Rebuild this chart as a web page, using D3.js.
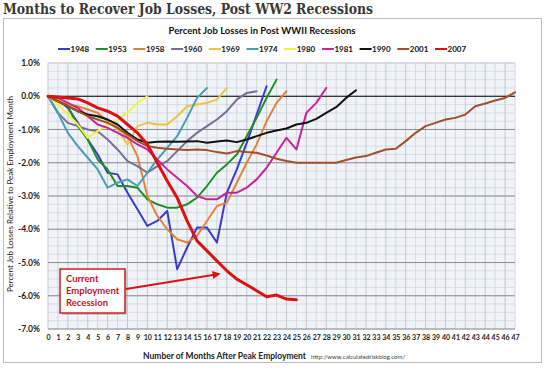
<!DOCTYPE html>
<html><head><meta charset="utf-8">
<script src="https://cdn.jsdelivr.net/npm/d3@7"></script>
<style>body{margin:0;background:#fff}svg{display:block}</style>
</head><body>
<svg id="c" width="549" height="374"></svg>
<script>
const months = d3.range(0, 48);
const xTickLabels = months.map(String);
const yTicks = [1, 0, -1, -2, -3, -4, -5, -6, -7];
const seriesNames = ["1948","1953","1958","1960","1969","1974","1980","1981","1990","2001","2007"];
const seriesColors = ["#3a3acc","#1f8f24","#e0843a","#7a6b9a","#efc23f","#4a9db0","#f4f43c","#cc2299","#111111","#a0502a","#dd1111"];
const s1948 = [0,-0.1,-0.35,-0.8,-1.3,-1.75,-2.3,-2.35,-2.9,-3.4,-3.9,-3.75,-3.45,-5.2,-4.55,-3.95,-3.95,-4.4,-2.9,-2.2,-1.4,-0.55,0.3];
const s1953 = [0,-0.1,-0.3,-0.9,-1.3,-1.9,-2.2,-2.7,-2.7,-2.75,-3.1,-3.25,-3.35,-3.35,-3.25,-3.05,-2.7,-2.3,-2.05,-1.75,-1.2,-0.65,-0.05,0.5];
const s1958 = [0,-0.1,-0.25,-0.3,-0.4,-0.5,-0.75,-0.95,-1.2,-1.8,-3.0,-3.6,-4.0,-4.3,-4.4,-4.2,-3.75,-3.3,-3.2,-2.6,-2.0,-1.45,-0.75,-0.2,0.15];
const s1960 = [0,-0.5,-0.8,-0.9,-1.0,-1.05,-1.3,-1.6,-1.95,-2.1,-2.3,-2.1,-1.95,-1.65,-1.35,-1.1,-0.9,-0.7,-0.45,-0.1,0.1,0.15];
const s1969 = [0,-0.1,-0.2,-0.4,-0.55,-0.6,-0.7,-1.0,-1.45,-0.9,-0.8,-0.85,-0.85,-0.6,-0.3,-0.25,-0.2,-0.1,0.25];
const s1974 = [0,-0.5,-1.1,-1.5,-1.85,-2.2,-2.75,-2.6,-2.5,-2.7,-2.3,-1.9,-1.55,-1.2,-0.65,-0.05,0.25];
const s1980 = [0,-0.25,-0.55,-0.85,-1.25,-1.05,-0.85,-0.7,-0.5,-0.2,0.0];
const s1981 = [0,-0.05,-0.2,-0.35,-0.6,-0.85,-0.95,-1.1,-1.25,-1.45,-1.6,-1.9,-2.2,-2.45,-2.7,-3.0,-3.1,-3.1,-2.9,-2.9,-2.75,-2.5,-2.15,-1.7,-1.25,-1.6,-0.5,-0.2,0.25];
const s1990 = [0,-0.15,-0.3,-0.45,-0.55,-0.6,-0.7,-0.85,-1.1,-1.3,-1.4,-1.37,-1.36,-1.37,-1.36,-1.35,-1.4,-1.36,-1.33,-1.38,-1.3,-1.2,-1.1,-1.03,-0.97,-0.85,-0.8,-0.68,-0.5,-0.33,-0.05,0.18];
const s2001 = [0,-0.15,-0.3,-0.45,-0.6,-0.7,-0.8,-0.95,-1.15,-1.35,-1.5,-1.55,-1.58,-1.6,-1.62,-1.6,-1.62,-1.68,-1.72,-1.65,-1.68,-1.7,-1.78,-1.88,-1.95,-2.0,-2.0,-2.0,-2.0,-2.0,-1.92,-1.84,-1.8,-1.7,-1.6,-1.58,-1.35,-1.1,-0.9,-0.8,-0.7,-0.65,-0.55,-0.3,-0.22,-0.13,-0.05,0.12];
const s2007 = [0,-0.02,-0.05,-0.08,-0.2,-0.35,-0.45,-0.6,-0.85,-1.1,-1.45,-2.0,-2.55,-3.05,-3.75,-4.35,-4.65,-4.95,-5.25,-5.5,-5.67,-5.85,-6.03,-5.98,-6.1,-6.12];
const seriesValues = [s1948,s1953,s1958,s1960,s1969,s1974,s1980,s1981,s1990,s2001,s2007];
const titleText = "Months to Recover Job Losses, Post WW2 Recessions";
const subtitleText = "Percent Job Losses in Post WWII Recessions";
const yAxisTitle = "Percent Job Losses Relative to Peak Employment Month";
const xAxisTitle = "Number of Months After Peak Employment";
const sourceText = "http://www.calculatedriskblog.com/";
const noteLines = ["Current","Employment","Recession"];

const svg = d3.select("#c");
const x = d3.scaleLinear().domain([0,47]).range([48,515]);
const y = d3.scaleLinear().domain([-7,1]).range([329,63]);

// title
svg.append("text").attr("x",3).attr("y",14).text(titleText)
  .attr("font-family","'DejaVu Serif', Georgia, serif").attr("font-weight","bold")
  .attr("font-size",15.5).attr("fill","#383838").attr("textLength",370).attr("lengthAdjust","spacingAndGlyphs");

// panel
svg.append("rect").attr("x",3.5).attr("y",18.5).attr("width",538).attr("height",344)
  .attr("fill","#fff").attr("stroke","#bdbdbd");

svg.append("text").attr("x",262).attr("y",34).attr("text-anchor","middle").text(subtitleText)
  .attr("font-family","Lato, 'Open Sans', sans-serif").attr("font-weight","bold").attr("font-size",9.5).attr("fill","#111");

// legend
const leg = svg.append("g");
seriesNames.forEach((n,i)=>{
  const lx = 58 + i*37.7;
  leg.append("line").attr("x1",lx).attr("x2",lx+12).attr("y1",49).attr("y2",49)
    .attr("stroke",seriesColors[i]).attr("stroke-width",2);
  leg.append("text").attr("x",lx+12.5).attr("y",52).text(n)
    .attr("font-family","Lato, sans-serif").attr("font-weight","bold").attr("font-size",8).attr("fill","#111");
});

// plot background
svg.append("rect").attr("x",x(0)).attr("y",y(1)).attr("width",x(47)-x(0)).attr("height",y(-7)-y(1)).attr("fill","#f0f4f9");
const g = svg.append("g");
// minor horizontal
d3.range(-7,1.001,0.25).forEach(v=>{
  g.append("line").attr("x1",x(0)).attr("x2",x(47)).attr("y1",y(v)).attr("y2",y(v))
   .attr("stroke","#d6dbe3").attr("stroke-width",1);
});
// vertical month lines
months.forEach(m=>{
  g.append("line").attr("x1",x(m)).attr("x2",x(m)).attr("y1",y(1)).attr("y2",y(-7))
   .attr("stroke", m%2===0?"#c3c8d0":"#d3d8e0").attr("stroke-width",1);
});
// major horizontal
yTicks.forEach(v=>{
  g.append("line").attr("x1",x(0)).attr("x2",x(47)).attr("y1",y(v)).attr("y2",y(v))
   .attr("stroke", v===0?"#000":(v===1?"#c8ccd4":"#8a8d92")).attr("stroke-width", v===0?1.2:1);
});

// axes labels
const yAxis = d3.axisLeft(y).tickValues(yTicks).tickFormat(d=>d.toFixed(1)+"%").tickSize(0).tickPadding(8);
const ya = svg.append("g").attr("transform",`translate(${x(0)},0)`).call(yAxis);
ya.select(".domain").remove();
ya.selectAll("text").attr("font-family","Lato, sans-serif").attr("font-weight","bold").attr("font-size",8.5).attr("fill","#222");

const xAxis = d3.axisBottom(x).tickValues(months).tickFormat((d,i)=>xTickLabels[i]).tickSize(0).tickPadding(6);
const xa = svg.append("g").attr("transform",`translate(0,${y(-7)})`).call(xAxis);
xa.select(".domain").remove();
xa.selectAll("text").attr("font-family","Lato, sans-serif").attr("font-weight","bold").attr("font-size",7).attr("fill","#222");

svg.append("text").attr("transform","translate(13,194) rotate(-90)").attr("text-anchor","middle").text(yAxisTitle)
  .attr("font-family","Lato, sans-serif").attr("font-size",8).attr("fill","#222");
svg.append("text").attr("x",143).attr("y",359).text(xAxisTitle)
  .attr("font-family","Lato, sans-serif").attr("font-weight","bold").attr("font-size",8.5).attr("fill","#222");
svg.append("text").attr("x",311).attr("y",359).text(sourceText)
  .attr("font-family","Lato, sans-serif").attr("font-size",6).attr("fill","#444");

// series
const line = d3.line().x((d,i)=>x(i)).y(d=>y(d)).curve(d3.curveLinear);
seriesValues.forEach((vals,i)=>{
  svg.append("path").attr("d",line(vals)).attr("fill","none")
    .attr("stroke",seriesColors[i]).attr("stroke-width", i===10?3:2)
    .attr("stroke-linejoin","round").attr("stroke-linecap","round");
});

// annotation
const ann = svg.append("g");
ann.append("rect").attr("x",62).attr("y",271).attr("width",65).attr("height",44).attr("fill","#888").attr("opacity",0.35);
ann.append("rect").attr("x",60).attr("y",269).attr("width",65).attr("height",44).attr("fill","#fff").attr("stroke","#d41c1c").attr("stroke-width",1.5);
noteLines.forEach((t,i)=>{
  ann.append("text").attr("x",66).attr("y",282+i*12).text(t)
    .attr("font-family","Lato, sans-serif").attr("font-weight","bold").attr("font-size",9.5).attr("fill","#c0141e");
});
svg.append("defs").append("marker").attr("id","ah").attr("viewBox","0 0 10 10").attr("refX",8).attr("refY",5)
  .attr("markerWidth",4).attr("markerHeight",4).attr("orient","auto")
  .append("path").attr("d","M0,0L10,5L0,10z").attr("fill","#dd1111");
ann.append("line").attr("x1",126).attr("y1",289).attr("x2",219).attr("y2",274)
  .attr("stroke","#dd1111").attr("stroke-width",2).attr("marker-end","url(#ah)");
</script>
</body></html>
